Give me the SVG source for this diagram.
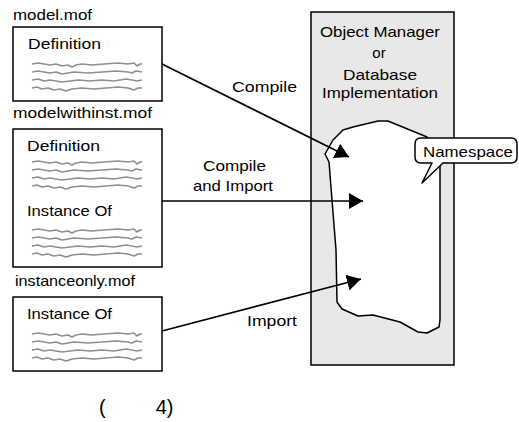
<svg xmlns="http://www.w3.org/2000/svg" xmlns:xlink="http://www.w3.org/1999/xlink" width="519" height="422" viewBox="0 0 519 422">
<style>
text { font-family: "Liberation Sans", Arial, sans-serif; font-size: 15px; fill: #000; }
.box { fill: #fff; stroke: #000; stroke-width: 1.5; }
.sq { fill: none; stroke: #909090; stroke-width: 1.7; stroke-linejoin: round; }
.conn { fill: none; stroke: #000; stroke-width: 1.7; }
.mid { text-anchor: middle; }
.cap { font-size: 20px; white-space: pre; }
</style>
<defs>
<marker id="arr" viewBox="0 0 14 16" refX="14" refY="8" markerWidth="14" markerHeight="16" markerUnits="userSpaceOnUse" orient="auto">
<path d="M0,0 L14,8 L0,16 Z" fill="#000"/>
</marker>
<g id="squig">
<path class="sq" d="M0,0 L6,-1 L12,0 L18,1 L24,0 L30,2 L36,1 L40,3 L44,1 L50,0 L60,1 L72,0 L86,-1 L96,0 L102,-1 L105,2 L108,0 L110,0"/>
<path class="sq" d="M0,8 L6,7 L12,8 L18,9 L24,8 L30,10 L36,9 L42,8 L56,9 L70,8 L84,7 L96,8 L100,9 L104,7 L110,8"/>
<path class="sq" d="M0,16 L6,15 L12,17 L18,16 L24,17 L30,18 L38,17 L46,16 L58,17 L70,16 L82,17 L94,15 L100,16 L105,17 L110,16"/>
<path class="sq" d="M0,24 L5,23 L10,25 L16,24 L22,26 L28,25 L34,27 L40,25 L50,24 L62,25 L74,24 L86,23 L96,24 L102,26 L106,24 L110,24"/>
</g>
</defs>

<g id="object-manager">
<rect x="311" y="12" width="143" height="353" fill="#e8e8e8" stroke="#000" stroke-width="1.5"/>
<text class="mid" x="380" y="37" textLength="120" lengthAdjust="spacingAndGlyphs">Object Manager</text>
<text class="mid" x="379" y="58">or</text>
<text class="mid" x="380" y="80" textLength="74" lengthAdjust="spacingAndGlyphs">Database</text>
<text class="mid" x="380" y="98" textLength="116" lengthAdjust="spacingAndGlyphs">Implementation</text>
</g>

<g id="namespace-area">
<path d="M325,154 L333,140 L343,130 L353,127 L378,121 L388,121 L427,137 L440,150 L440,320 L439,327 L427,333 L418,332 L400,322 L373,315 L358,316 L342,309 L337,302 L336,250 L332,200 L329,162 Z" fill="#fff" stroke="#000" stroke-width="1.5" stroke-linejoin="round"/>
</g>

<g id="namespace-callout">
<path d="M421,138 H511 Q517,138 517,144 V157 Q517,163 511,163 H443 L422,183 L432,163 H421 Q415,163 415,157 V144 Q415,138 421,138 Z" fill="#fff" stroke="#000" stroke-width="1.5" stroke-linejoin="round"/>
<text class="mid" x="468" y="157" textLength="90" lengthAdjust="spacingAndGlyphs">Namespace</text>
</g>

<g id="model-mof">
<text x="13" y="20" textLength="79" lengthAdjust="spacingAndGlyphs">model.mof</text>
<rect class="box" x="13" y="27" width="149" height="74"/>
<text x="28" y="49" textLength="73" lengthAdjust="spacingAndGlyphs">Definition</text>
<use xlink:href="#squig" x="32" y="64"/>
</g>

<g id="modelwithinst-mof">
<text x="13" y="118" textLength="139" lengthAdjust="spacingAndGlyphs">modelwithinst.mof</text>
<rect class="box" x="13" y="129" width="149" height="138"/>
<text x="27" y="151" textLength="73" lengthAdjust="spacingAndGlyphs">Definition</text>
<use xlink:href="#squig" x="32" y="162"/>
<text x="27" y="216" textLength="85" lengthAdjust="spacingAndGlyphs">Instance Of</text>
<use xlink:href="#squig" x="32" y="230"/>
</g>

<g id="instanceonly-mof">
<text x="15" y="286" textLength="120" lengthAdjust="spacingAndGlyphs">instanceonly.mof</text>
<rect class="box" x="13" y="297" width="149" height="74"/>
<text x="27" y="319" textLength="85" lengthAdjust="spacingAndGlyphs">Instance Of</text>
<use xlink:href="#squig" x="32" y="334"/>
</g>

<g id="connectors">
<line class="conn" x1="162" y1="64" x2="349" y2="157" marker-end="url(#arr)"/>
<line class="conn" x1="162" y1="201" x2="363" y2="201" marker-end="url(#arr)"/>
<line class="conn" x1="162" y1="331" x2="361" y2="279" marker-end="url(#arr)"/>
<text x="232" y="92" textLength="65" lengthAdjust="spacingAndGlyphs">Compile</text>
<text x="203" y="171" textLength="63" lengthAdjust="spacingAndGlyphs">Compile</text>
<text x="193" y="191" textLength="80" lengthAdjust="spacingAndGlyphs">and Import</text>
<text x="247" y="326" textLength="50" lengthAdjust="spacingAndGlyphs">Import</text>
</g>

<g id="caption">
<text class="cap" x="99" y="414" xml:space="preserve">(         4)</text>
</g>
</svg>
